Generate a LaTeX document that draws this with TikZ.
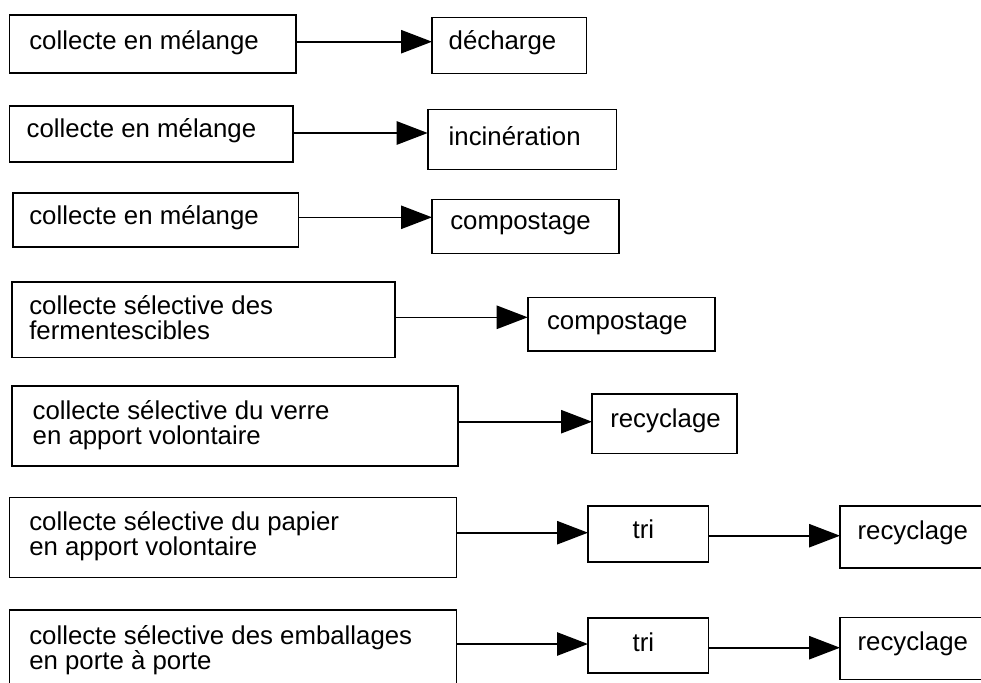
\documentclass[tikz,border=0pt]{standalone}
\usepackage{fontspec}
\setmainfont{Liberation Sans}
\usetikzlibrary{arrows.meta}
\newlength{\px}\setlength{\px}{0.75pt}
\begin{document}
\begin{tikzpicture}[x=0.75pt,y=-0.75pt,
  box/.style={draw, line width=1.2pt, rectangle, inner sep=0pt, outer sep=0pt},
  txt/.style={font=\fontsize{19.35}{18.75}\selectfont, inner sep=0pt, outer sep=0pt, anchor=base west},
  arr/.style={line width=1.2pt, -{Triangle[length=23.25pt,width=17.5pt]}}]
\clip (0,0) rectangle (981,682);
% left boxes
\node[box, minimum width=286.7\px, minimum height=57.7\px] (c1) at (152.65,43.85) {};
\node[box, minimum width=283.4\px, minimum height=55.7\px] (c2) at (151,133.85) {};
\node[box, minimum width=285.6\px, minimum height=54\px] (c3) at (155.5,219.7) {};
\node[box, minimum width=383\px, minimum height=75.6\px] (c4) at (203.2,319.5) {};
\node[box, minimum width=446.3\px, minimum height=80.3\px] (c5) at (234.85,425.85) {};
\node[box, minimum width=447\px, minimum height=80\px] (c6) at (232.8,537.3) {};
\node[box, minimum width=447\px, minimum height=78\px] (c7) at (232.8,649) {};
% right boxes
\node[box, minimum width=154.3\px, minimum height=56\px] (d1) at (509.15,45.3) {};
\node[box, minimum width=188.6\px, minimum height=60\px] (d2) at (522,139.3) {};
\node[box, minimum width=186.7\px, minimum height=54\px] (d3) at (525.35,226.3) {};
\node[box, minimum width=187\px, minimum height=53.7\px] (d4) at (621.2,324.15) {};
\node[box, minimum width=144.7\px, minimum height=59.3\px] (d5) at (664.35,423.65) {};
\node[box, minimum width=120.3\px, minimum height=56\px] (t6) at (648.15,533.7) {};
\node[box, minimum width=120.3\px, minimum height=55\px] (t7) at (648.15,645.2) {};
\node[box, minimum width=145\px, minimum height=62\px] (r6) at (912.5,536.7) {};
\node[box, minimum width=145\px, minimum height=62\px] (r7) at (912.5,648.3) {};
% texts
\node[txt] (l1) at (29.3,49) {collecte en mélange};
\node[txt] (l2) at (26.7,137.5) {collecte en mélange};
\node[txt] (l3) at (29.3,224) {collecte en mélange};
\node[txt] (l4) at (29.3,314) {\vtop{\hbox{collecte sélective des}\hbox{fermentescibles}}};
\node[txt] (l5) at (32.7,419) {\vtop{\hbox{collecte sélective du verre}\hbox{en apport volontaire}}};
\node[txt] (l6) at (29.3,530.5) {\vtop{\hbox{collecte sélective du papier}\hbox{en apport volontaire}}};
\node[txt] (l7) at (29.3,644) {\vtop{\hbox{collecte sélective des emballages}\hbox{en porte à porte}}};
\node[txt] (m1) at (448.7,49) {décharge};
\node[txt] (m2) at (448.7,145.5) {incinération};
\node[txt] (m3) at (450.3,229) {compostage};
\node[txt] (m4) at (547,329) {compostage};
\node[txt] (m5) at (610.3,427.2) {recyclage};
\node[txt] (m6) at (632.7,538.5) {tri};
\node[txt] (m7) at (632.7,651) {tri};
\node[txt] (n6) at (857.6,539) {recyclage};
\node[txt] (n7) at (857.6,650.5) {recyclage};
% arrows
\draw[arr] (c1.east |- 0,41.7) -- (d1.west |- 0,41.7);
\draw[arr] (c2.east |- 0,133) -- (d2.west |- 0,133);
\draw[arr] (c3.east |- 0,217.3) -- (d3.west |- 0,217.3);
\draw[arr] (c4.east |- 0,317.3) -- (d4.west |- 0,317.3);
\draw[arr] (c5.east |- 0,421.7) -- (d5.west |- 0,421.7);
\draw[arr] (c6.east |- 0,532.7) -- (t6.west |- 0,532.7);
\draw[arr] (t6.east |- 0,535.7) -- (r6.west |- 0,535.7);
\draw[arr] (c7.east |- 0,644) -- (t7.west |- 0,644);
\draw[arr] (t7.east |- 0,647.7) -- (r7.west |- 0,647.7);
\end{tikzpicture}
\end{document}
